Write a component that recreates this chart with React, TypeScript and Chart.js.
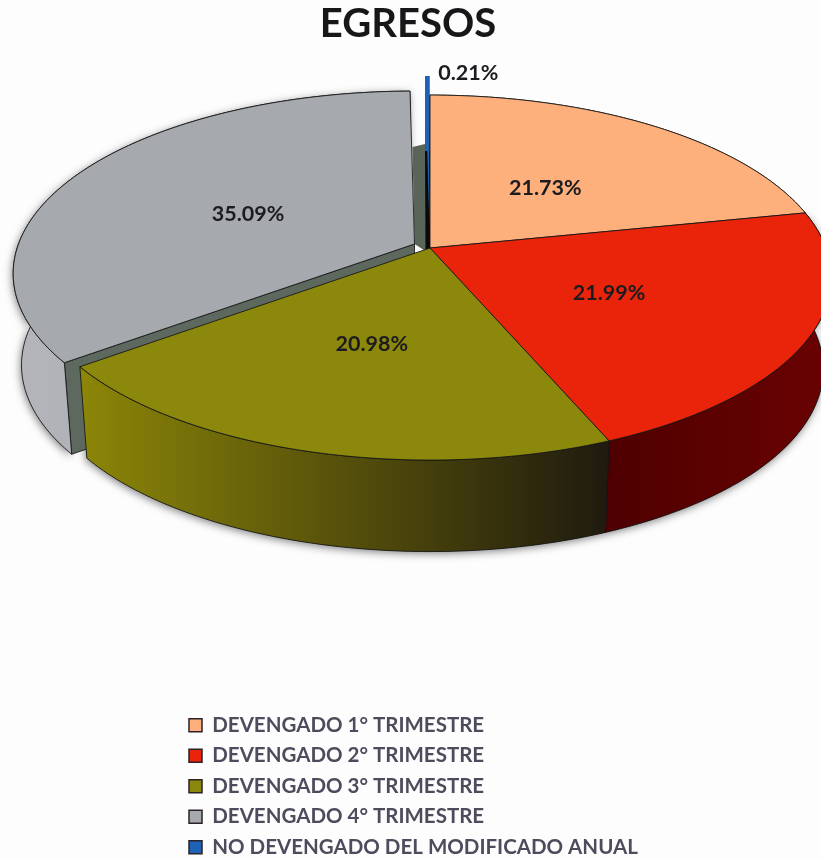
import React, { useEffect, useRef } from "react";
import { Chart, registerables } from "chart.js";

Chart.register(...registerables);

const titleText = "EGRESOS";
const categories = [
  "DEVENGADO 1° TRIMESTRE",
  "DEVENGADO 2° TRIMESTRE",
  "DEVENGADO 3° TRIMESTRE",
  "DEVENGADO 4° TRIMESTRE",
  "NO DEVENGADO DEL MODIFICADO ANUAL",
];
const shares = [21.73, 21.99, 20.98, 35.09, 0.21];
const labelTexts = ["21.73%", "21.99%", "20.98%", "35.09%", "0.21%"];

const FONT = "Lato, 'Open Sans', sans-serif";
const topColors = ["#fdb07c", "#ea240a", "#8c880c", "#a6a9ad", "#1e62b8"];
const rimStops: string[][] = [
  ["#c98a60", "#c98a60"],
  ["#4e0000", "#6a0202"],
  ["#8c8608", "#1f1a0e"],
  ["#b4b6bb", "#9a9ca2"],
  ["#000000", "#000000"],
];

// projection of the pie disc on the page (perspective seen from above)
const VIEW = { cx: 430, cy: 248, a: 396, b: 177.7, k: 0.162, depth: 91.5, shrink: 0.98 };
const explode: [number, number][] = [[0, 0], [0, 0], [0, 0], [-15.5, -4], [-0.5, -19]];
const labelRadius = [0.49, 0.5, 0.5, 0.49, 1];
const labelShift: [number, number][] = [[0, 4], [-3, 2], [-2, 3], [2, 7], [41, -3]];
const paintOrder = [3, 4, 0, 1, 2];

type Pt = [number, number];

function project(angle: number, r: number, off: Pt): Pt {
  const th = angle + Math.PI / 2;
  const u = Math.sin(th) * r;
  const v = -Math.cos(th) * r;
  const w = 1 - VIEW.k * v;
  return [VIEW.cx + (VIEW.a * u) / w + off[0], VIEW.cy + (VIEW.b * v) / w + off[1]];
}
const lower = (p: Pt): Pt => [VIEW.cx + (p[0] - VIEW.cx) * VIEW.shrink, p[1] + VIEW.depth];

function arcPoints(a0: number, a1: number, off: Pt): Pt[] {
  const n = Math.max(2, Math.ceil(((a1 - a0) * 180) / Math.PI));
  const pts: Pt[] = [];
  for (let i = 0; i <= n; i++) pts.push(project(a0 + ((a1 - a0) * i) / n, 1, off));
  return pts;
}
function poly(ctx: CanvasRenderingContext2D, pts: Pt[]) {
  ctx.beginPath();
  pts.forEach((p, i) => (i ? ctx.lineTo(p[0], p[1]) : ctx.moveTo(p[0], p[1])));
  ctx.closePath();
}

const pie3d = {
  id: "pie3d",
  afterLayout(chart: any) {
    const l = chart.legend;
    l.left = 179;
    l.right = 821;
    l.top = 705;
    l.bottom = 905;
    const t = chart.titleBlock;
    t.left -= 2.5;
    t.right -= 2.5;
  },
  beforeDatasetsDraw(chart: any) {
    const ctx: CanvasRenderingContext2D = chart.ctx;
    const arcs = chart.getDatasetMeta(0).data;
    const edge = "rgba(20,20,20,0.85)";
    const info = arcs.map((arc: any, i: number) => {
      const { startAngle, endAngle } = arc.getProps(["startAngle", "endAngle"], true);
      const off = explode[i];
      const top = arcPoints(startAngle, endAngle, off);
      return { i, startAngle, endAngle, off, top, apex: project(0, 0, off), rim: [...top, ...top.map(lower).reverse()] as Pt[] };
    });

    ctx.save();
    // soft cast shadow round the base
    ctx.save();
    ctx.shadowColor = "rgba(0,0,0,0.5)";
    ctx.shadowBlur = 9;
    ctx.shadowOffsetX = -1;
    ctx.shadowOffsetY = 2;
    ctx.fillStyle = "#555";
    [3, 1, 2].forEach((i) => {
      poly(ctx, info[i].rim);
      ctx.fill();
    });
    ctx.restore();

    ctx.lineJoin = "round";
    ctx.lineWidth = 1;
    ctx.strokeStyle = edge;
    paintOrder.forEach((i) => {
      const s = info[i];
      const first = s.top[0];
      const last = s.top[s.top.length - 1];
      if (i === 3) {
        // inner faces of the pulled-out slice
        ctx.fillStyle = "#5d685e";
        poly(ctx, [s.apex, lower(s.apex), lower(first), first]);
        ctx.fill();
        ctx.stroke();
        ctx.fillStyle = "#5a655a";
        poly(ctx, [s.apex, [s.apex[0] + 14, s.apex[1] + 9], [last[0] + 15, last[1] + 53], [last[0] + 2.5, last[1] + 56]]);
        ctx.fill();
      }
      if (i === 4) {
        ctx.fillStyle = "#0a0a0c";
        poly(ctx, [[first[0], first[1] + 75], [last[0] + 0.5, last[1] + 75], [last[0] + 0.5, s.apex[1] + 20], [first[0] + 0.5, s.apex[1] + 20]]);
        ctx.fill();
        ctx.fillStyle = topColors[i];
        poly(ctx, [first, last, [last[0] + 0.5, last[1] + 75], [first[0], first[1] + 75]]);
        ctx.fill();
        poly(ctx, [s.apex, ...s.top]);
        ctx.fill();
        return;
      }
      const xs = s.rim.map((p: Pt) => p[0]);
      const g = ctx.createLinearGradient(Math.min(...xs), 0, Math.max(...xs), 0);
      g.addColorStop(0, rimStops[i][0]);
      g.addColorStop(1, rimStops[i][1]);
      ctx.fillStyle = g;
      poly(ctx, s.rim);
      ctx.fill();
      ctx.stroke();
      ctx.fillStyle = topColors[i];
      poly(ctx, [s.apex, ...s.top]);
      ctx.fill();
      ctx.stroke();
    });

    ctx.fillStyle = "#1c1c20";
    ctx.font = `bold 21.5px ${FONT}`;
    ctx.textAlign = "center";
    ctx.textBaseline = "middle";
    info.forEach((s: any) => {
      const mid = (s.startAngle + s.endAngle) / 2;
      const p = project(mid, labelRadius[s.i], s.off);
      ctx.fillText(labelTexts[s.i], p[0] + labelShift[s.i][0], p[1] + labelShift[s.i][1]);
    });
    ctx.restore();
    return false;
  },
};

export default function App() {
  const ref = useRef<HTMLCanvasElement>(null);
  useEffect(() => {
    const chart = new Chart(ref.current as HTMLCanvasElement, {
      type: "pie",
      data: {
        labels: categories,
        datasets: [{ data: shares, backgroundColor: topColors, borderColor: "#2a2228", borderWidth: 1.5 }],
      },
      options: {
        responsive: false,
        animation: false,
        layout: { padding: 0 },
        plugins: {
          title: {
            display: true,
            text: titleText,
            color: "#17171a",
            font: { family: FONT, size: 40, weight: "bold" },
            padding: { top: 0, bottom: 8 },
          },
          legend: {
            position: "left",
            align: "start",
            labels: {
              color: "#4e4c5c",
              boxWidth: 13,
              boxHeight: 13,
              padding: 10,
              font: { family: FONT, size: 20.5, weight: "bold" },
            },
          },
          tooltip: { enabled: false },
        },
      },
      plugins: [pie3d],
    } as any);
    return () => chart.destroy();
  }, []);
  return (
    <div style={{ position: "absolute", left: 0, top: 0, width: 821, height: 859, background: "#fdfdfd", overflow: "hidden" }}>
      <canvas ref={ref} width={821} height={859} style={{ display: "block", filter: "blur(0.5px)" }} />
    </div>
  );
}
